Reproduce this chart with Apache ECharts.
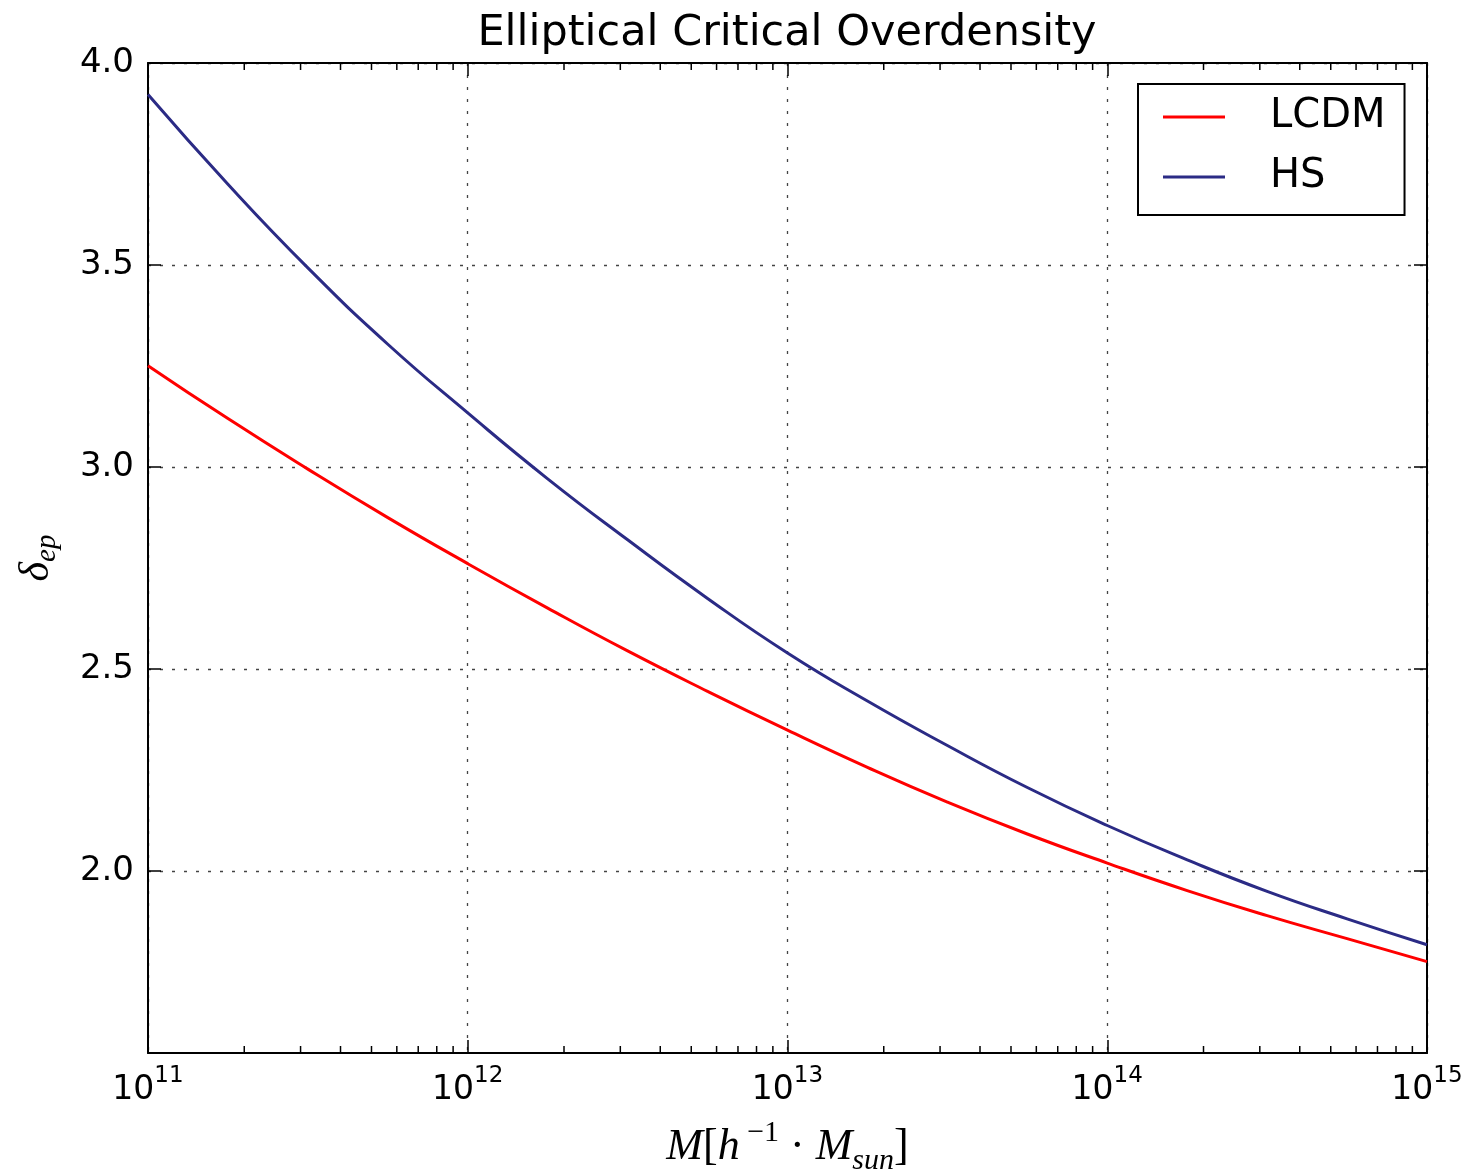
<!DOCTYPE html>
<html><head><meta charset="utf-8">
<script src="https://cdn.jsdelivr.net/npm/echarts@6/dist/echarts.min.js"></script>
<style>html,body{margin:0;padding:0;background:#fff;overflow:hidden}#c{width:1468px;height:1172px}</style>
</head><body><div id="c"></div>
<script>
// log10 of mass M [h^-1 M_sun]
const massExp = [11, 11.25, 11.5, 11.75, 12, 12.25, 12.5, 12.75, 13, 13.25, 13.5, 13.75, 14, 14.25, 14.5, 14.75, 15];
const lcdm = [3.251, 3.120, 2.995, 2.875, 2.761, 2.651, 2.545, 2.445, 2.349, 2.257, 2.171, 2.092, 2.020, 1.952, 1.890, 1.833, 1.776];
const hs   = [3.922, 3.700, 3.493, 3.304, 3.134, 2.971, 2.820, 2.675, 2.540, 2.421, 2.311, 2.207, 2.113, 2.028, 1.950, 1.882, 1.818];
const yTicks = [2.0, 2.5, 3.0, 3.5, 4.0];
const yMin = 1.55, yMax = 4.0;
const xMin = 1e11, xMax = 1e15;
const minorMult = [2, 3, 4, 5, 6, 7, 8, 9];
const decades = [11, 12, 13, 14];

const FONT = '"DejaVu Sans", sans-serif';
const SERIF = '"Liberation Serif", "DejaVu Serif", serif';

const toPairs = (vals) => massExp.map((e, i) => [Math.pow(10, e), vals[i]]);

const chart = echarts.init(document.getElementById('c'), null, {renderer: 'canvas', width: 1468, height: 1172});

const gridLine = {show: true, lineStyle: {color: '#444', width: 1.3, type: [3, 9]}};

const option = {
  backgroundColor: '#fff',
  animation: false,
  grid: {left: 148, right: 41, top: 63, bottom: 119, containLabel: false, outerBoundsMode: 'none'},
  legend: {
    data: ['LCDM', 'HS'],
    orient: 'vertical',
    left: 1138, top: 84,
    padding: [13, 19, 18, 25],
    itemGap: 20,
    itemWidth: 62, itemHeight: 3,
    icon: 'rect',
    borderColor: '#000', borderWidth: 2,
    textStyle: {fontFamily: FONT, fontSize: 40, color: '#000', lineHeight: 40, padding: [0, 0, 0, 40]}
  },
  xAxis: [{
    type: 'log', logBase: 10, min: xMin, max: xMax,
    axisLine: {show: true, onZero: false, lineStyle: {color: '#000', width: 2}},
    axisTick: {show: true, inside: true, length: 13, lineStyle: {color: '#000', width: 1.5}},
    axisLabel: {
      margin: 12,
      formatter: (v) => '{b|10}{s|' + Math.round(Math.log10(v)) + '}',
      rich: {
        b: {fontFamily: FONT, fontSize: 33, color: '#000', lineHeight: 42, verticalAlign: 'bottom'},
        s: {fontFamily: FONT, fontSize: 23, color: '#000', lineHeight: 42, verticalAlign: 'top'}
      }
    },
    splitLine: gridLine,
    name: '{i|M}{r|[}{i|h}{sup| −1}{r| · }{i|M}{sub|sun}{r|]}',
    nameLocation: 'middle', nameGap: 65,
    nameTextStyle: {
      rich: {
        i: {fontFamily: SERIF, fontStyle: 'italic', fontSize: 44, color: '#000', lineHeight: 58, verticalAlign: 'middle'},
        r: {fontFamily: SERIF, fontSize: 44, color: '#000', lineHeight: 58, verticalAlign: 'middle'},
        sup: {fontFamily: SERIF, fontSize: 30, color: '#000', lineHeight: 58, verticalAlign: 'top'},
        sub: {fontFamily: SERIF, fontStyle: 'italic', fontSize: 30, color: '#000', lineHeight: 58, verticalAlign: 'bottom'}
      }
    }
  }, {
    type: 'log', logBase: 10, min: xMin, max: xMax, position: 'top',
    axisLine: {show: true, onZero: false, lineStyle: {color: '#000', width: 2}},
    axisTick: {show: true, inside: true, length: 13, lineStyle: {color: '#000', width: 1.5}},
    axisLabel: {show: false}, splitLine: {show: false}
  }],
  yAxis: [{
    type: 'value', min: yMin, max: yMax,
    axisLine: {show: true, onZero: false, lineStyle: {color: '#000', width: 2}},
    axisTick: {show: true, inside: true, length: 13, customValues: yTicks, lineStyle: {color: '#000', width: 1.5}},
    axisLabel: {show: true, customValues: yTicks, margin: 14, fontFamily: FONT, fontSize: 34, color: '#000',
      formatter: (v) => v.toFixed(1)},
    splitLine: gridLine,
    name: '{d|δ}{s|ep}',
    nameLocation: 'middle', nameRotate: 90, nameGap: 86,
    nameTextStyle: {
      rich: {
        d: {fontFamily: SERIF, fontStyle: 'italic', fontSize: 42, color: '#000', lineHeight: 50, verticalAlign: 'middle'},
        s: {fontFamily: SERIF, fontStyle: 'italic', fontSize: 29, color: '#000', lineHeight: 50, verticalAlign: 'bottom'}
      }
    }
  }, {
    type: 'value', min: yMin, max: yMax, position: 'right',
    axisLine: {show: true, onZero: false, lineStyle: {color: '#000', width: 2}},
    axisTick: {show: true, inside: true, length: 13, customValues: yTicks, lineStyle: {color: '#000', width: 1.5}},
    axisLabel: {show: false}, splitLine: {show: false}
  }],
  series: [{
    name: 'LCDM', type: 'line', data: toPairs(lcdm), smooth: 0.5, showSymbol: false, symbol: 'none',
    lineStyle: {color: '#ff0000', width: 3}, itemStyle: {color: '#ff0000'}, z: 3
  }, {
    name: 'HS', type: 'line', data: toPairs(hs), smooth: 0.5, showSymbol: false, symbol: 'none',
    lineStyle: {color: '#2b2b85', width: 3}, itemStyle: {color: '#2b2b85'}, z: 3
  }],
  graphic: [{
    type: 'text', x: 787, y: 34, z: 10,
    style: {text: 'Elliptical Critical Overdensity', fontFamily: FONT, fontSize: 43, fill: '#000', align: 'center', verticalAlign: 'middle'}
  }]
};
chart.setOption(option);

// minor ticks on the log axes, positioned through the axis scale
const yBot = chart.convertToPixel({yAxisIndex: 0}, yMin);
const yTop = chart.convertToPixel({yAxisIndex: 0}, yMax);
const minor = [];
decades.forEach(d => minorMult.forEach(k => {
  const px = chart.convertToPixel({xAxisIndex: 0}, k * Math.pow(10, d));
  minor.push({type: 'line', z: 5, shape: {x1: px, y1: yBot, x2: px, y2: yBot - 7}, style: {stroke: '#000', lineWidth: 1.5}});
  minor.push({type: 'line', z: 5, shape: {x1: px, y1: yTop, x2: px, y2: yTop + 7}, style: {stroke: '#000', lineWidth: 1.5}});
}));
chart.setOption({graphic: option.graphic.concat(minor)});
</script>
</body></html>
